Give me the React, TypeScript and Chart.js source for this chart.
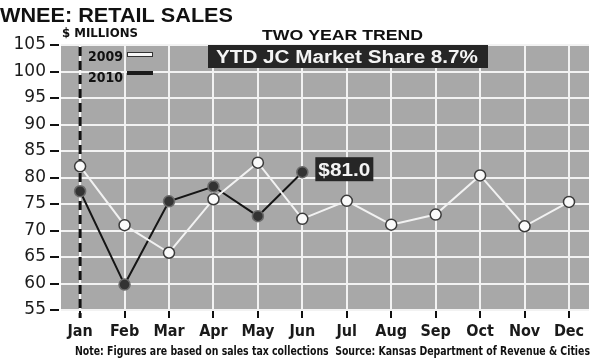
import React, { useEffect, useRef } from "react";
import { Chart, registerables } from "chart.js";

Chart.register(...registerables);

const MONTHS = ["Jan", "Feb", "Mar", "Apr", "May", "Jun", "Jul", "Aug", "Sep", "Oct", "Nov", "Dec"];
const SALES_2009 = [82.1, 71.0, 65.8, 75.9, 82.8, 72.2, 75.6, 71.1, 73.0, 80.4, 70.8, 75.4];
const SALES_2010 = [77.4, 59.8, 75.5, 78.3, 72.7, 81.0];
const Y_MIN = 55;
const Y_MAX = 105;
const Y_STEP = 5;
const TITLE = "WNEE: RETAIL SALES";
const UNITS = "$ MILLIONS";
const SUBTITLE = "TWO YEAR TREND";
const SHARE = "YTD JC Market Share 8.7%";
const LAST_LABEL = "$81.0";
const NOTE = "Note: Figures are based on sales tax collections  Source: Kansas Department of Revenue & Cities";
const LEGEND = ["2009", "2010"];

const NARROW = "'Liberation Sans Narrow', 'DejaVu Sans Condensed', 'Liberation Sans', sans-serif";
const SANS = "'Liberation Sans', Arial, sans-serif";

function fitText(
  ctx: CanvasRenderingContext2D,
  text: string,
  x: number,
  y: number,
  width: number,
  font: string,
  color: string
) {
  ctx.save();
  ctx.font = font;
  const m = ctx.measureText(text).width;
  ctx.translate(x, y);
  ctx.scale(width / m, 1);
  ctx.fillStyle = color;
  ctx.textBaseline = "alphabetic";
  ctx.textAlign = "left";
  ctx.fillText(text, 0, 0);
  ctx.restore();
}

const decorPlugin = {
  id: "decor",
  beforeDraw(chart: any) {
    const { ctx, chartArea } = chart;
    ctx.save();
    ctx.fillStyle = "#a8a8a8";
    ctx.fillRect(chartArea.left, chartArea.top, chartArea.right - chartArea.left, chartArea.bottom - chartArea.top);
    ctx.restore();
  },
  beforeDatasetsDraw(chart: any) {
    const { ctx, chartArea, scales } = chart;
    const x = scales.x.getPixelForValue(0);
    ctx.save();
    // y-axis tick dashes
    ctx.strokeStyle = "#111";
    ctx.lineWidth = 2;
    scales.y.ticks.forEach((t: any) => {
      const y = Math.round(scales.y.getPixelForValue(t.value));
      ctx.beginPath();
      ctx.moveTo(chartArea.left - 11, y);
      ctx.lineTo(chartArea.left - 2, y);
      ctx.stroke();
    });
    ctx.strokeStyle = "#f4f4f4";
    ctx.lineWidth = 2;
    ctx.beginPath();
    ctx.moveTo(x, chartArea.top);
    ctx.lineTo(x, chartArea.bottom);
    ctx.stroke();
    ctx.strokeStyle = "#111";
    ctx.lineWidth = 3;
    ctx.setLineDash([9, 5]);
    ctx.beginPath();
    ctx.moveTo(x, chartArea.top + 2);
    ctx.lineTo(x, chartArea.bottom + 8);
    ctx.stroke();
    ctx.restore();
  },
  afterDraw(chart: any) {
    const { ctx, scales } = chart;
    ctx.save();
    fitText(ctx, TITLE, 0, 22, 233, `bold 21px ${SANS}`, "#111");
    fitText(ctx, UNITS, 62, 37, 76, `bold 12px ${NARROW}`, "#111");
    fitText(ctx, SUBTITLE, 262, 40, 161, `bold 14px ${SANS}`, "#111");
    ctx.fillStyle = "#262626";
    ctx.fillRect(208, 45, 280, 23);
    fitText(ctx, SHARE, 216, 63, 262, `bold 18px ${SANS}`, "#f4f4f4");
    fitText(ctx, LEGEND[0], 88, 61, 35, `bold 14px ${NARROW}`, "#111");
    fitText(ctx, LEGEND[1], 88, 82, 35, `bold 14px ${NARROW}`, "#111");
    ctx.fillStyle = "#f8f8f8";
    ctx.strokeStyle = "#333";
    ctx.lineWidth = 1;
    ctx.fillRect(127.5, 52.5, 25, 4);
    ctx.strokeRect(127.5, 52.5, 25, 4);
    ctx.fillStyle = "#1a1a1a";
    ctx.fillRect(127, 71, 26, 4);
    const lastIdx = SALES_2010.length - 1;
    const px = scales.x.getPixelForValue(lastIdx);
    const py = scales.y.getPixelForValue(SALES_2010[lastIdx]);
    ctx.fillStyle = "#262626";
    ctx.fillRect(px + 13, py - 15, 58, 24);
    fitText(ctx, LAST_LABEL, px + 16, py + 4, 52, `bold 18px ${SANS}`, "#f4f4f4");
    fitText(ctx, NOTE, 75, 355, 515, `bold 12px ${NARROW}`, "#111");
    ctx.restore();
  },
};

export default function App() {
  const ref = useRef<HTMLCanvasElement | null>(null);
  useEffect(() => {
    if (!ref.current) return;
    const chart = new Chart(ref.current, {
      type: "line",
      data: {
        datasets: [
          {
            label: LEGEND[0],
            data: SALES_2009.map((v, i) => ({ x: i, y: v })),
            borderColor: "#f2f2f2",
            borderWidth: 2,
            pointBackgroundColor: "#fafafa",
            pointBorderColor: "#3a3a3a",
            pointBorderWidth: 1.5,
            pointRadius: 5.5,
            tension: 0,
          },
          {
            label: LEGEND[1],
            data: SALES_2010.map((v, i) => ({ x: i, y: v })),
            borderColor: "#151515",
            borderWidth: 2,
            pointBackgroundColor: "#333",
            pointBorderColor: "#6a6a6a",
            pointBorderWidth: 1.5,
            pointRadius: 5.5,
            tension: 0,
          },
        ],
      },
      options: {
        responsive: false,
        animation: false,
        devicePixelRatio: 1,
        layout: { padding: { top: 45, right: 8, bottom: 0, left: 0 } },
        plugins: { legend: { display: false }, tooltip: { enabled: false } },
        scales: {
          x: {
            type: "linear",
            min: -0.43,
            max: 11.45,
            afterBuildTicks: (s: any) => {
              s.ticks = MONTHS.map((_, i) => ({ value: i }));
            },
            afterFit: (s: any) => {
              s.height = 50;
            },
            ticks: {
              callback: (v: any) => MONTHS[v as number] ?? "",
              font: { family: NARROW, size: 16, weight: "bold" },
              color: "#1a1a1a",
              padding: 4,
              autoSkip: false,
              maxRotation: 0,
            },
            grid: {
              color: "#f2f2f2",
              lineWidth: 2,
              tickColor: "#111",
              tickLength: 8,
              tickWidth: 2,
            },
            border: { display: false },
          },
          y: {
            min: Y_MIN,
            max: Y_MAX,
            afterFit: (s: any) => {
              s.width = 61;
            },
            ticks: {
              stepSize: Y_STEP,
              font: { family: "'DejaVu Sans', sans-serif", size: 17 },
              color: "#1a1a1a",
              padding: 4,
            },
            grid: {
              color: "#f2f2f2",
              lineWidth: 2,
              drawTicks: true,
              tickColor: "rgba(0,0,0,0)",
              tickLength: 11,
              tickWidth: 2,
            },
            border: { display: false },
          },
        },
      },
      plugins: [decorPlugin],
    });
    return () => chart.destroy();
  }, []);
  return (
    <div style={{ position: "fixed", left: 0, top: 0, width: 597, height: 360, background: "#fff" }}>
      <canvas ref={ref} width={597} height={360} />
    </div>
  );
}
